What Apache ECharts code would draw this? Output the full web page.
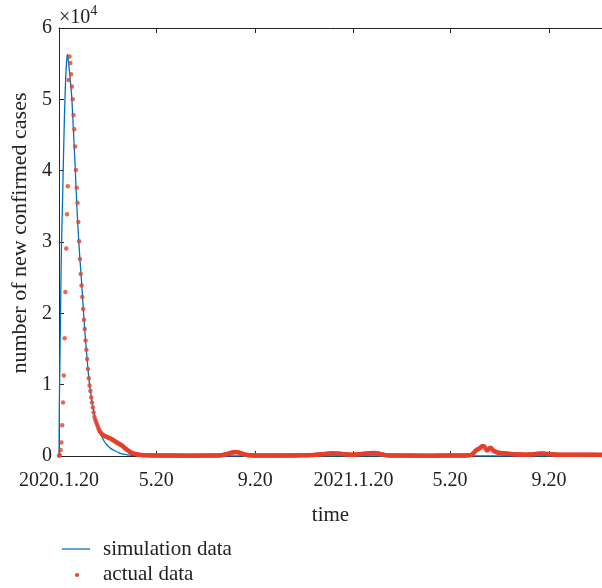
<!DOCTYPE html>
<html>
<head>
<meta charset="utf-8">
<script src="https://cdn.jsdelivr.net/npm/echarts@6/dist/echarts.min.js"></script>
<style>
html,body{margin:0;padding:0;background:#fff;}
#chart{width:602px;height:588px;}
</style>
</head>
<body>
<div id="chart"></div>
<script>
// x = days since 2020-01-20
const tickDays = [0, 121, 244, 366, 486, 609];
const tickLabels = ["2020.1.20", "5.20", "9.20", "2021.1.20", "5.20", "9.20"];
const yTicks = [0, 1, 2, 3, 4, 5, 6];

// simulation curve (cases), read at these days
const simDays = [0,0.5,1,2,3,4,5,6,7,8,9,10,10.5,11,12,13,14,15,16,18,20,22,24,26,28,30,32,34,36,38,40,42,44,46,48,50,53,56,60,65,70,75,80,85,90,95,100,675];
const simValues = [0,8000,12000,21000,29000,34000,39000,44000,48500,52000,54500,56000,56300,56000,55000,54000,52700,51500,50000,45500,40800,35500,31200,27600,24500,21000,17700,14800,12200,10000,8400,7000,5800,4900,4300,3600,2800,2100,1500,1000,700,450,250,150,100,40,0,0];

// actual daily data (cases), consecutive days from day 0
const actualWave1 = [50,140,840,1900,4300,7500,11300,16500,23000,29100,
33900,37800,52700,56000,55100,53500,51800,50000,47800,45800,
43400,40100,37600,35500,32800,30100,27600,25500,23900,22300,
20600,19100,17800,16200,14900,13600,12200,10900,9900,9100,
8200,7500,6800,6100,5500,5100,4800,4500,4200,3900,
3600,3400,3300,3100,3000,2900,2850,2800,2750,2700,
2650,2600,2550,2500,2450,2400,2300,2250,2200,2100,
2000,1950,1900,1800,1750,1700,1600,1550,1500,1400,
1300,1200,1100,1000,940,850,750,680,600,520,
460,410,370,330,300,270,240,220,200,180,
160,150,140];
const actual2020 = [130,120,125,110,115,100,105,95,100,90,95,85,90,80,85,90,80,75,85,80,
70,80,75,70,65,75,70,60,70,65,60,70,65,60,55,65,60,70,60,55,
60,55,65,60,50,55,60,50,55,60,50,45,55,50,45,50,55,45,50,55,
50,45,50,55,45,50,60,55,50,45,55,60,50,55,65,60,55,50,60,65,
60,65,55,60,70,65,60,70,75,70,65,75,80,75,70,80,85,90,100,110,
130,150,170,200,230,260,290,320,350,380,410,440,470,500,520,540,550,560,550,530,
500,470,440,400,360,320,280,240,210,180,160,140,120,110,100,95,90,85,80,85,
80,75,80,70,75,80,70,75,70,65,70,75,70,65,60,70,65,60,70,65,
60,65,70,60,65,70,65,60,70,75,65,70,60,65,70,75,70,65,70,75];
const actualWinter = [80,75,70,80,85,80,75,80,90,85,80,90,85,90,85,95,90,100,95,100,
100,105,110,100,110,115,120,110,120,125,130,120,130,140,150,160,170,180,190,200,
210,220,230,240,250,260,270,280,290,300,310,320,330,340,350,360,360,370,370,360,
360,350,350,340,330,320,310,300,290,280,270,260,250,240,230,220,210,200,200,190,
190,185,190,195,200,205,210,220,230,240,250,260,270,280,290,300,310,320,330,340,
350,360,370,380,390,400,410,410,420,420,410,400,390,370,350,320,290,260,230,200,
180,160,140,120,110,100,90,85,80,75,70,75,70,65,70,65,60,65,70,60,
65,60,55,60,65,60,55,60,55,50,55,60,55,50,55,60,55,50,55,50,
55,50,45,50,55,50,45,50,55,50,45,50,55,50,45,50,45,50,55,50,
45,50,55,50,45,50,55,50,60,55,50,55,60,55,50,55,60,65,60,55,
60,65,60,55,60,65,70,65,60,65,70,75,70,65,70,75,80,75,70,80];
const actual2021 = [80,85,80,90,85,90,95,100,110,130,170,250,380,500,620,740,840,900,940,1020,
1100,1200,1300,1370,1400,1380,1280,1100,900,780,820,950,1080,1160,1120,1000,860,740,680,620,
580,540,500,470,450,430,420,400,390,380,370,360,350,340,330,320,310,300,290,280,
270,260,250,240,235,230,225,220,215,210,210,205,200,200,195,190,190,185,185,180,
200,205,210,220,230,240,250,260,270,280,290,300,310,320,330,330,340,340,340,330,
330,320,310,300,290,280,270,260,250,240,230,220,210,200,200,195,190,190,185,180,
180,175,180,175,170,175,180,175,170,175,180,185,180,175,180,185,190,185,180,175,
180,185,180,175,170,175,180,175,170,165,170,175,170,165,170,175,170,165,160,165,
170,165,160,165,170,165,160,155,160,165,160,155,160];

const actualValues = actualWave1.concat(actual2020, actualWinter, actual2021);
const actualData = actualValues.map((v, i) => [i, v]);
const simData = simDays.map((d, i) => [d, simValues[i]]);

const FONT = "'Liberation Serif', 'DejaVu Serif', serif";
const AX = '#262626';
const chart = echarts.init(document.getElementById('chart'), null, {renderer: 'canvas'});
chart.setOption({
  animation: false,
  backgroundColor: '#fff',
  textStyle: {fontFamily: FONT, color: '#222'},
  grid: {left: 59, right: 0, top: 28, bottom: 132},
  xAxis: [{
    type: 'value', min: 0, max: 675, position: 'bottom',
    name: 'time', nameLocation: 'middle', nameGap: 49,
    nameTextStyle: {fontFamily: FONT, fontSize: 21, color: '#222'},
    axisLine: {show: true, lineStyle: {color: AX, width: 1}},
    axisTick: {show: true, inside: true, length: 5, customValues: tickDays, lineStyle: {color: AX}},
    axisLabel: {show: true, customValues: tickDays, margin: 15, fontFamily: FONT, fontSize: 20, color: '#222',
      formatter: v => { const k = tickDays.indexOf(v); return k >= 0 ? tickLabels[k] : ''; }},
    splitLine: {show: false}
  }, {
    type: 'value', min: 0, max: 675, position: 'top',
    axisLine: {show: true, onZero: false, lineStyle: {color: AX, width: 1}},
    axisTick: {show: true, inside: true, length: 5, customValues: tickDays, lineStyle: {color: AX}},
    axisLabel: {show: false},
    splitLine: {show: false}
  }],
  yAxis: [{
    type: 'value', min: 0, max: 60000, interval: 10000,
    name: 'number of new confirmed cases', nameLocation: 'middle', nameGap: 28, nameRotate: 90,
    nameTextStyle: {fontFamily: FONT, fontSize: 22, color: '#222', padding: [0, 0, 0, 18]},
    axisLine: {show: true, lineStyle: {color: AX, width: 1}},
    axisTick: {show: true, inside: true, length: 5, lineStyle: {color: AX}},
    axisLabel: {margin: 7, fontFamily: FONT, fontSize: 20, color: '#222',
      formatter: v => String(yTicks[Math.round(v / 10000)])},
    splitLine: {show: false}
  }],
  series: [{
    name: 'simulation data', type: 'line', data: simData, symbol: 'none',
    smooth: 0.2, lineStyle: {color: '#0072BD', width: 1.3}, z: 2
  }, {
    name: 'actual data', type: 'scatter', data: actualData, symbolSize: 4.5,
    itemStyle: {color: '#E5402A'}, z: 3
  }],
  graphic: [
    {type: 'text', left: 59, top: 4, style: {
      text: '{a|×10}{b|4}', fontFamily: FONT,
      rich: {a: {fontFamily: FONT, fontSize: 20, fill: '#222', verticalAlign: 'bottom'},
             b: {fontFamily: FONT, fontSize: 14, fill: '#222', verticalAlign: 'top', padding: [0,0,10,0]}}
    }},
    {type: 'line', shape: {x1: 62, y1: 549, x2: 90, y2: 549}, style: {stroke: '#0072BD', lineWidth: 1.3}},
    {type: 'circle', shape: {cx: 77, cy: 575, r: 2}, style: {fill: '#E5402A'}},
    {type: 'text', left: 103, top: 539, style: {text: 'simulation data', fontFamily: FONT, fontSize: 21, fill: '#222'}},
    {type: 'text', left: 103, top: 564, style: {text: 'actual data', fontFamily: FONT, fontSize: 21, fill: '#222'}}
  ]
});
</script>
</body>
</html>
